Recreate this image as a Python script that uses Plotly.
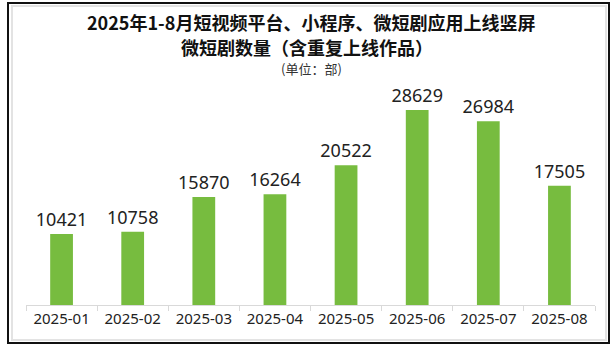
import plotly.graph_objects as go

months = ["2025-01", "2025-02", "2025-03", "2025-04", "2025-05", "2025-06", "2025-07", "2025-08"]
counts = [10421, 10758, 15870, 16264, 20522, 28629, 26984, 17505]
title_line1 = "2025年1-8月短视频平台、小程序、微短剧应用上线竖屏"
title_line2 = "微短剧数量（含重复上线作品）"
unit_text = "(单位：部)"

W, H = 615, 349
L, R, T, B = 26, 20, 80, 44
pw, ph = W - L - R, H - T - B

def px(x):
    return (x - L) / pw

def py(y):
    return (H - B - y) / ph

font_cn = "Noto Sans CJK SC, Noto Sans, sans-serif"

fig = go.Figure(go.Bar(
    x=months, y=counts,
    marker=dict(color="#77BC3F", line=dict(width=0)),
    text=[str(v) for v in counts],
    textposition="outside",
    constraintext="none",
    textfont=dict(size=18, color="#222222", family="Noto Sans, Open Sans, sans-serif"),
    cliponaxis=False,
))

fig.update_layout(
    width=W, height=H,
    margin=dict(l=L, r=R, t=T, b=B),
    paper_bgcolor="white", plot_bgcolor="white",
    bargap=0.68,
    showlegend=False,
    xaxis=dict(
        type="category",
        showline=True, linecolor="#d9d9d9", linewidth=1,
        ticks="outside", tickson="boundaries", ticklen=5, tickcolor="#d9d9d9",
        tickfont=dict(size=15, color="#222222", family="Noto Sans, Open Sans, sans-serif"),
        showgrid=False,
    ),
    yaxis=dict(visible=False, range=[0, 33040], showgrid=False),
    shapes=[
        dict(type="rect", xref="paper", yref="paper",
             x0=px(12), x1=px(606), y0=py(340), y1=py(6),
             line=dict(color="#e3e3e3", width=2), layer="below"),
        dict(type="rect", xref="paper", yref="paper",
             x0=px(8), x1=px(609), y0=py(343), y1=py(3),
             line=dict(color="#111111", width=2), layer="above"),
    ],
    annotations=[
        dict(text="<b>" + title_line1 + "</b>", xref="paper", yref="paper",
             x=px(311), y=py(22), xanchor="center", yanchor="middle", showarrow=False,
             font=dict(size=18, color="#111111", family=font_cn)),
        dict(text="<b>" + title_line2 + "</b>", xref="paper", yref="paper",
             x=px(307), y=py(47), xanchor="center", yanchor="middle", showarrow=False,
             font=dict(size=18, color="#111111", family=font_cn)),
        dict(text=unit_text, xref="paper", yref="paper",
             x=px(311), y=py(69), xanchor="center", yanchor="middle", showarrow=False,
             font=dict(size=13, color="#333333", family=font_cn)),
    ],
)

fig.write_html("out.html")
